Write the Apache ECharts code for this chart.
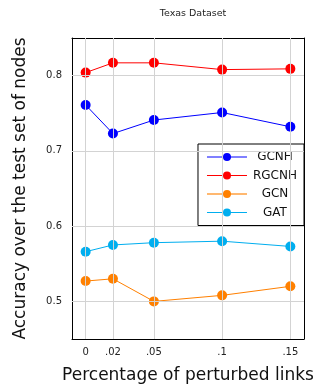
<!DOCTYPE html>
<html>
<head>
<meta charset="utf-8">
<script src="https://cdn.jsdelivr.net/npm/echarts@6/dist/echarts.min.js"></script>
<style>
html,body{margin:0;padding:0;background:#fff;}
#c{width:326px;height:390px;}
</style>
</head>
<body>
<div id="c"></div>
<script>
var xValues = [0, 0.02, 0.05, 0.1, 0.15];
var xTickLabels = ['0', '.02', '.05', '.1', '.15'];
var yTicks = [0.5, 0.6, 0.7, 0.8];
var yTickLabels = ['0.5', '0.6', '0.7', '0.8'];
var seriesNames = ['GCNH', 'RGCNH', 'GCN', 'GAT'];
var gcnh = [0.761, 0.723, 0.741, 0.751, 0.732];
var rgcnh = [0.804, 0.817, 0.817, 0.808, 0.809];
var gcn = [0.527, 0.530, 0.500, 0.508, 0.520];
var gat = [0.566, 0.575, 0.578, 0.580, 0.573];
var colors = ['#0000ff', '#ff0000', '#ff8000', '#00aeef'];
var legendLineColors = ['#0000ff', '#ff0000', '#ffb870', '#00aeef'];
var legendLineWidths = [1, 1, 2, 1];

var font = 'DejaVu Sans';
function pairs(v) { return xValues.map(function (x, i) { return [x, v[i]]; }); }
function fmtX(v) { var i = xValues.findIndex(function (x) { return Math.abs(x - v) < 1e-9; }); return i >= 0 ? xTickLabels[i] : ''; }
function fmtY(v) { var i = yTicks.findIndex(function (x) { return Math.abs(x - v) < 1e-9; }); return i >= 0 ? yTickLabels[i] : ''; }

var gridLines = xValues.map(function (x) { return { xAxis: x }; })
  .concat(yTicks.map(function (y) { return { yAxis: y }; }));

var dataSets = [gcnh, rgcnh, gcn, gat];
var series = [{
  type: 'line', name: '_grid', data: [], z: 0, silent: true,
  markLine: {
    silent: true, symbol: 'none', label: { show: false },
    lineStyle: { color: '#d3d3d3', width: 1, type: 'solid' },
    animation: false,
    data: gridLines
  }
}];
dataSets.forEach(function (d, i) {
  series.push({
    type: 'line', name: seriesNames[i], data: pairs(d), z: 3,
    symbol: 'circle', symbolSize: 10,
    itemStyle: { color: colors[i], borderWidth: 0 },
    lineStyle: { color: colors[i], width: 1 },
    emphasis: { disabled: true },
    animation: false
  });
});

var chart = echarts.init(document.getElementById('c'), null, { renderer: 'canvas' });
chart.setOption({
  animation: false,
  backgroundColor: '#fff',
  title: {
    text: 'Texas Dataset', left: 188, top: 4, textAlign: 'center',
    textStyle: { fontFamily: font, fontSize: 9.5, fontWeight: 'normal', color: '#222' }
  },
  grid: { left: 72, right: 22, top: 38, bottom: 51, containLabel: false },
  legend: {
    data: seriesNames.map(function (n, i) {
      return { name: n, itemStyle: { color: colors[i], borderWidth: 0 }, lineStyle: { color: legendLineColors[i], width: legendLineWidths[i] } };
    }),
    orient: 'vertical', right: 22, top: 144,
    backgroundColor: '#fff', borderColor: '#000', borderWidth: 1, borderRadius: 0,
    padding: [7, 7, 7, 8], itemGap: 6.5, itemWidth: 40, itemHeight: 10,
    formatter: '{c|{name}}',
    textStyle: {
      fontFamily: font, fontSize: 12, color: '#111',
      rich: { c: { width: 46, align: 'center', fontFamily: font, fontSize: 12, color: '#111' } }
    }
  },
  xAxis: [{
    type: 'value', min: -0.01, max: 0.16, position: 'bottom',
    name: 'Percentage of perturbed links', nameLocation: 'middle', nameGap: 28,
    nameTextStyle: { fontFamily: font, fontSize: 17, color: '#111' },
    axisLine: { show: true, onZero: false, lineStyle: { color: '#000', width: 1 } },
    axisTick: { show: true, inside: true, length: 5, customValues: xValues, lineStyle: { color: '#777' } },
    axisLabel: { show: true, customValues: xValues, formatter: fmtX, margin: 8, fontFamily: font, fontSize: 10, color: '#222' },
    splitLine: { show: false }
  }, {
    type: 'value', min: -0.01, max: 0.16, position: 'top',
    axisLine: { show: true, onZero: false, lineStyle: { color: '#000', width: 1 } },
    axisTick: { show: true, inside: true, length: 5, customValues: xValues, lineStyle: { color: '#777' } },
    axisLabel: { show: false },
    splitLine: { show: false }
  }],
  yAxis: [{
    type: 'value', min: 0.45, max: 0.85, position: 'left',
    name: 'Accuracy over the test set of nodes', nameLocation: 'middle', nameGap: 43,
    nameTextStyle: { fontFamily: font, fontSize: 17, color: '#111' },
    axisLine: { show: true, onZero: false, lineStyle: { color: '#000', width: 1 } },
    axisTick: { show: true, inside: true, length: 5, customValues: yTicks, lineStyle: { color: '#777' } },
    axisLabel: { show: true, customValues: yTicks, formatter: fmtY, margin: 10, fontFamily: font, fontSize: 10, color: '#222' },
    splitLine: { show: false }
  }, {
    type: 'value', min: 0.45, max: 0.85, position: 'right',
    axisLine: { show: true, onZero: false, lineStyle: { color: '#000', width: 1 } },
    axisTick: { show: true, inside: true, length: 5, customValues: yTicks, lineStyle: { color: '#777' } },
    axisLabel: { show: false },
    splitLine: { show: false }
  }],
  series: series
});
</script>
</body>
</html>
